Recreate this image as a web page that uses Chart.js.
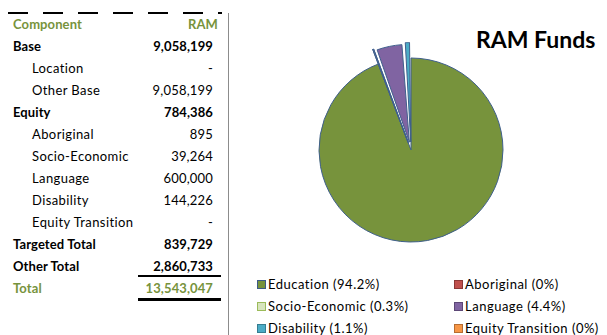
<!DOCTYPE html>
<html>
<head>
<meta charset="utf-8">
<script src="https://cdn.jsdelivr.net/npm/chart.js@4.4.1/dist/chart.umd.min.js"></script>
<style>
  body { margin: 0; background: #fff; font-family: Lato, "DejaVu Sans", sans-serif; }
  #page { position: relative; width: 607px; height: 335px; overflow: hidden; }
  .dash { position: absolute; left: 8px; top: 12px; width: 214px; height: 2px;
    background: repeating-linear-gradient(90deg, #000 0 20px, transparent 20px 35px); }
  .vline { position: absolute; left: 228px; top: 13px; width: 1px; height: 322px; background: #8c8c8c; }
  .row { position: absolute; left: 13px; width: 200px; height: 18px; line-height: 18px; font-size: 13px; color: #000; letter-spacing: 0.1px; }
  .row .v { position: absolute; right: 0; top: 0; }
  .row.sub { left: 32px; width: 181px; letter-spacing: 0.4px; }
  .row.sub .v { letter-spacing: 0.2px; }
  .b { font-weight: bold; }
  .green { color: #77933C; }
  .rule { position: absolute; left: 138px; width: 83px; background: #000; }
  #title { position: absolute; left: 476px; top: 25px; font-size: 23px; font-weight: bold; color: #000; white-space: nowrap; }
  #pieBox { position: absolute; left: 291px; top: 30px; width: 240px; height: 240px; }
  .leg { position: absolute; font-size: 13px; height: 16px; line-height: 16px; white-space: nowrap; color: #000; letter-spacing: 0.5px; }
  .leg i { position: absolute; left: 0; top: 4px; width: 7px; height: 7px; border: 1px solid; }
  .leg span { position: absolute; left: 11px; top: 0; }
</style>
</head>
<body>
<div id="page">
  <div class="dash"></div>
  <div class="vline"></div>
  <div id="table"></div>
  <div id="title">RAM Funds</div>
  <div id="pieBox"><canvas id="GraficoRam" width="240" height="240"></canvas></div>
  <div id="legend"></div>
</div>
<script>
// tabela da esquerda
const headerLabels = ['Component', 'RAM'];
const rowLabels = ['Base', 'Location', 'Other Base', 'Equity', 'Aboriginal', 'Socio-Economic',
  'Language', 'Disability', 'Equity Transition', 'Targeted Total', 'Other Total', 'Total'];
const rowValues = [9058199, null, 9058199, 784386, 895, 39264, 600000, 144226, null, 839729, 2860733, 13543047];

// dados da pizza
const pieLabels = ['Education', 'Aboriginal', 'Socio-Economic', 'Language', 'Disability', 'Equity Transition'];
const pieValues = [12758661, 895, 39264, 600000, 144226, 0];
const piePercent = ['94.2%', '0%', '0.3%', '4.4%', '1.1%', '0%'];

const pieColors = ['#77933C', '#C0504D', '#D7E4BD', '#8064A2', '#4BACC6', '#F79646'];
const legendBorders = ['#3C5A87', '#8C3836', '#9BBB59', '#5C4776', '#357D91', '#B66D31'];

const boldRows = ['Base', 'Equity', 'Targeted Total', 'Other Total', 'Total'];
const table = document.getElementById('table');

const head = document.createElement('div');
head.className = 'row b green';
head.style.top = '15px';
head.style.width = '205px';
head.innerHTML = headerLabels[0] + '<span class="v">' + headerLabels[1] + '</span>';
table.appendChild(head);

rowLabels.forEach(function (nome, i) {
  const linha = document.createElement('div');
  let cls = 'row';
  if (boldRows.includes(nome)) cls += ' b'; else cls += ' sub';
  if (nome === 'Total') cls += ' green';
  linha.className = cls;
  let topo = 37 + i * 22;
  if (nome === 'Total') topo = 279;
  linha.style.top = topo + 'px';
  const valor = rowValues[i] === null ? '-' : rowValues[i].toLocaleString('en-US');
  linha.innerHTML = nome + '<span class="v">' + valor + '</span>';
  table.appendChild(linha);
});

// linhas de soma
const r1 = document.createElement('div');
r1.className = 'rule'; r1.style.top = '275px'; r1.style.height = '1.5px';
table.appendChild(r1);
const r2 = document.createElement('div');
r2.className = 'rule'; r2.style.top = '298px'; r2.style.height = '3px';
table.appendChild(r2);

// legenda em duas colunas
const legend = document.getElementById('legend');
pieLabels.forEach(function (nome, i) {
  const item = document.createElement('div');
  item.className = 'leg';
  item.style.left = (i % 2 === 0 ? 257 : 454) + 'px';
  item.style.top = (276 + Math.floor(i / 2) * 22) + 'px';
  item.innerHTML = '<i style="background:' + pieColors[i] + ';border-color:' + legendBorders[i] + '"></i>' +
    '<span>' + nome + ' (' + piePercent[i] + ')</span>';
  legend.appendChild(item);
});

new Chart(document.getElementById('GraficoRam'), {
  type: 'pie',
  data: {
    labels: pieLabels,
    datasets: [
      {
        data: pieValues,
        backgroundColor: pieColors,
        borderColor: '#3F5F8C',
        borderWidth: 1,
        offset: [0, 32, 32, 32, 32, 32], // fatias destacadas
      }
    ],
  },
  options: {
    responsive: false,
    animation: false,
    radius: 92,
    layout: { padding: 0 },
    plugins: {
      legend: { display: false },
      tooltip: { enabled: false },
    },
  },
});
</script>
</body>
</html>
